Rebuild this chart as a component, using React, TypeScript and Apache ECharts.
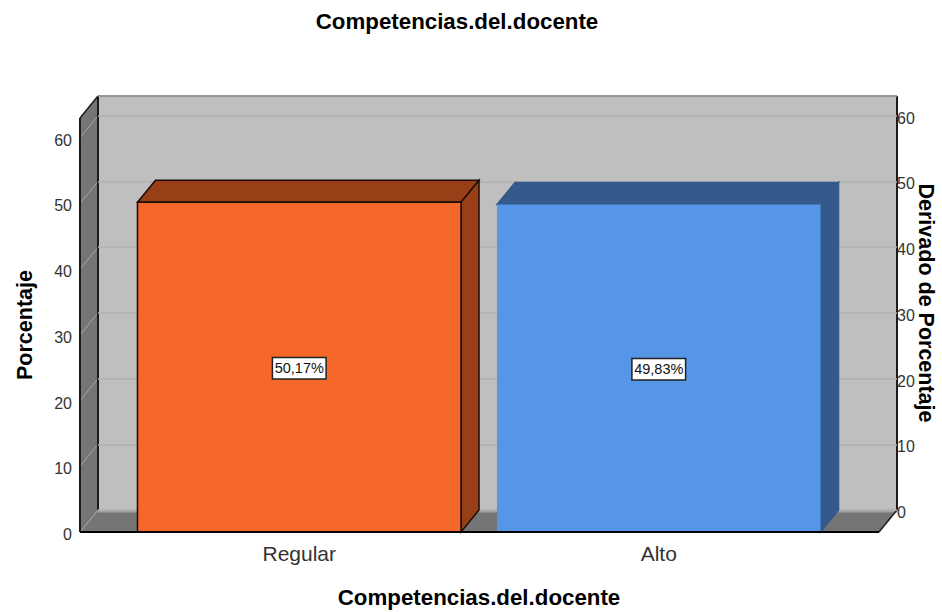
import React, { useEffect, useRef } from "react";
import * as echarts from "echarts";

const categories = ["Regular", "Alto"];
const percentages = [50.17, 49.83];
const percentLabels = ["50,17%", "49,83%"];
const yTicks = [0, 10, 20, 30, 40, 50, 60];
const yMax = 63;

const FONT = '"Liberation Sans", Arial, sans-serif';
const FRONT = ["#f5682a", "#5596e6"];
const SHADE = ["#983f18", "#335a8a"];
const EDGE = ["#1a0d06", "#335a8a"];
const DX = 18;
const DY = -22;

function poly(points: number[][], fill: string, stroke?: string, lineWidth = 1.5) {
  return {
    type: "polygon",
    shape: { points },
    style: { fill, stroke: stroke ?? "none", lineWidth },
  };
}
function seg(a: number[], b: number[], stroke: string, lineWidth: number) {
  return {
    type: "line",
    shape: { x1: a[0], y1: a[1], x2: b[0], y2: b[1] },
    style: { stroke, lineWidth },
  };
}

function renderWalls(_: any, api: any) {
  const fl = api.coord([0, 0]);
  const fr = api.coord([1, 0]);
  const tl = api.coord([0, yMax]);
  const back = (p: number[]) => [p[0] + DX, p[1] + DY];
  const wallGrey = "#757575";
  const dark = "#1c1c1c";
  const children: any[] = [
    poly([fl, tl, back(tl), back(fl)], wallGrey),
    poly([fl, fr, back(fr), back(fl)], wallGrey),
    seg([back(fl)[0], back(fl)[1] + 1], [back(fr)[0], back(fr)[1] + 1], "#a2a2a2", 3),
  ];
  yTicks.forEach((t) => {
    const p = api.coord([0, t]);
    children.push(seg(p, back(p), "#a6a6a6", 1));
  });
  children.push(
    seg(tl, fl, dark, 2),
    seg(back(tl), back(fl), dark, 2),
    seg(tl, back(tl), dark, 1.5),
    seg(back(tl), back(api.coord([1, yMax])), dark, 1.5),
    seg(back(api.coord([1, yMax])), back(fr), dark, 2),
    seg(fr, back(fr), dark, 1.5),
    seg(fl, fr, "#000", 2)
  );
  return { type: "group", children };
}

function renderBar(params: any, api: any) {
  const i = params.dataIndex;
  const cat = api.value(0);
  const val = api.value(1);
  const width = api.size([1, 0])[0] * 0.9;
  const top = api.coord([cat, val]);
  const base = api.coord([cat, 0]);
  const mid = api.coord([cat, val / 2]);
  const l = top[0] - width / 2;
  const r = top[0] + width / 2;
  const edge = EDGE[i];
  return {
    type: "group",
    children: [
      poly([[l, top[1]], [l + DX, top[1] + DY], [r + DX, top[1] + DY], [r, top[1]]], SHADE[i], edge),
      poly([[r, top[1]], [r + DX, top[1] + DY], [r + DX, base[1] + DY], [r, base[1]]], SHADE[i], edge),
      poly([[l, top[1]], [r, top[1]], [r, base[1]], [l, base[1]]], FRONT[i], i === 0 ? edge : "none"),
      seg([l - 1, base[1]], [r + 1, base[1]], "#000", 2),
      {
        type: "text",
        x: mid[0],
        y: mid[1] + 1,
        z2: 10,
        style: {
          text: percentLabels[i],
          font: `14.5px ${FONT}`,
          fill: "#111",
          align: "center",
          verticalAlign: "middle",
          backgroundColor: "#fff",
          borderColor: "#222",
          borderWidth: 1.5,
          padding: [3, 1.5, 2, 1.5],
        },
      },
    ],
  };
}

export default function App() {
  const ref = useRef<HTMLDivElement>(null);
  useEffect(() => {
    const chart = echarts.init(ref.current!, undefined, { renderer: "svg" });
    chart.setOption({
      animation: false,
      backgroundColor: "#fff",
      title: {
        text: "Competencias.del.docente",
        left: 452,
        top: 5,
        textAlign: "center",
        textStyle: { fontFamily: FONT, fontSize: 22.3, fontWeight: "bold", color: "#000" },
      },
      grid: [
        { left: 80, width: 799, top: 118, height: 414, outerBoundsMode: "none" },
        { left: 119.5, width: 719, top: 118, height: 414, outerBoundsMode: "none" },
        {
          left: 98,
          width: 799,
          top: 96,
          height: 414,
          outerBoundsMode: "none",
          show: true,
          backgroundColor: "#bfbfbf",
          borderWidth: 0,
        },
      ],
      xAxis: [
        { gridIndex: 0, type: "value", min: 0, max: 1, show: false },
        {
          gridIndex: 1,
          type: "category",
          data: categories,
          axisLine: { show: false },
          axisTick: { show: false },
          axisLabel: { fontFamily: FONT, fontSize: 21, color: "#333", margin: 11 },
          name: "Competencias.del.docente",
          nameLocation: "middle",
          nameGap: 54,
          nameTextStyle: { fontFamily: FONT, fontSize: 22.3, fontWeight: "bold", color: "#000" },
        },
        { gridIndex: 2, type: "value", min: 0, max: 1, show: false },
      ],
      yAxis: [
        {
          gridIndex: 0,
          type: "value",
          min: 0,
          max: yMax,
          interval: 10,
          axisLine: { show: false },
          axisTick: { show: false },
          splitLine: { show: false },
          axisLabel: {
            fontFamily: FONT,
            fontSize: 16,
            color: "#333",
            margin: 8,
            verticalAlign: "top",
            lineHeight: 5,
            showMaxLabel: false,
          },
          name: "Porcentaje",
          nameLocation: "middle",
          nameGap: 44,
          nameMoveOverlap: false,
          nameTextStyle: { fontFamily: FONT, fontSize: 21.5, fontWeight: "bold", color: "#000" },
        },
        { gridIndex: 1, type: "value", min: 0, max: yMax, interval: 10, show: false },
        {
          gridIndex: 2,
          type: "value",
          position: "right",
          min: 0,
          max: yMax,
          interval: 10,
          z: 2,
          axisLine: { show: false },
          axisTick: { show: false },
          splitLine: { show: true, lineStyle: { color: "#b0b0b0", width: 1.5 } },
          axisLabel: {
            fontFamily: FONT,
            fontSize: 16,
            color: "#333",
            margin: 0,
            verticalAlign: "top",
            lineHeight: 5,
            showMaxLabel: false,
          },
          name: "Derivado de Porcentaje",
          nameLocation: "middle",
          nameGap: 18,
          nameRotate: -90,
          nameMoveOverlap: false,
          nameTextStyle: { fontFamily: FONT, fontSize: 21.5, fontWeight: "bold", color: "#000" },
        },
      ],
      series: [
        {
          type: "custom",
          name: "walls",
          xAxisIndex: 0,
          yAxisIndex: 0,
          z: 1,
          silent: true,
          renderItem: renderWalls,
          data: [[0, 0]],
        },
        {
          type: "custom",
          name: "Porcentaje",
          xAxisIndex: 1,
          yAxisIndex: 1,
          z: 3,
          renderItem: renderBar,
          encode: { x: 0, y: 1 },
          data: categories.map((_, i) => [i, percentages[i]]),
        },
      ],
    });
    return () => chart.dispose();
  }, []);
  return (
    <div
      ref={ref}
      style={{ position: "absolute", left: 0, top: 0, width: 942, height: 612 }}
    />
  );
}
